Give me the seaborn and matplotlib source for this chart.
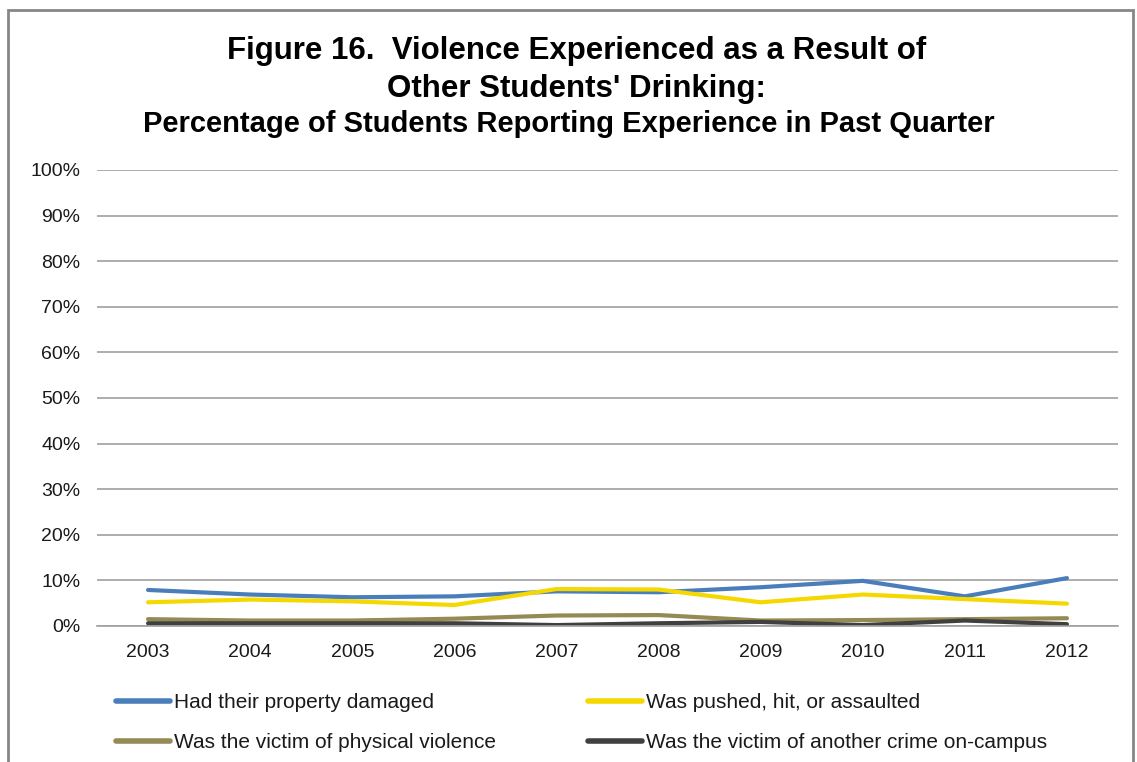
import matplotlib
matplotlib.use("Agg")
import matplotlib.pyplot as plt
import seaborn as sns
import pandas as pd
from matplotlib.patches import Rectangle
from matplotlib.ticker import FuncFormatter
from matplotlib.lines import Line2D

years = ["2003", "2004", "2005", "2006", "2007", "2008", "2009", "2010", "2011", "2012"]
series_names = [
    "Had their property damaged",
    "Was pushed, hit, or assaulted",
    "Was the victim of physical violence",
    "Was the victim of another crime on-campus",
]
property_damaged = [7.9, 6.9, 6.3, 6.5, 7.6, 7.4, 8.5, 9.9, 6.5, 10.5]
pushed_hit = [5.2, 5.8, 5.4, 4.6, 8.1, 8.0, 5.2, 6.9, 5.9, 4.9]
physical_violence = [1.5, 1.2, 1.2, 1.6, 2.3, 2.4, 1.2, 1.3, 1.5, 1.7]
other_crime = [0.6, 0.6, 0.6, 0.6, 0.2, 0.6, 0.9, 0.2, 1.2, 0.4]
colors = ["#4A7EBB", "#F5D800", "#948A54", "#404040"]

rows = []
for name, vals in zip(series_names, [property_damaged, pushed_hit, physical_violence, other_crime]):
    for y, v in zip(years, vals):
        rows.append({"Year": y, "Value": v, "Series": name})
df = pd.DataFrame(rows)

sns.set_style("white")
plt.rcParams["font.family"] = ["Liberation Sans", "DejaVu Sans"]

fig = plt.figure(figsize=(11.37, 7.62), dpi=100)
ax = fig.add_axes([97 / 1137, 1 - 626 / 762, (1118 - 97) / 1137, (626 - 170) / 762])

sns.lineplot(data=df, x="Year", y="Value", hue="Series", hue_order=series_names,
             palette=colors, linewidth=3.0, ax=ax, legend=False, sort=False)

ax.set_xlim(-0.5, len(years) - 0.5)
ax.set_ylim(0, 100)
ax.set_yticks(range(0, 101, 10))
ax.yaxis.set_major_formatter(FuncFormatter(lambda v, p: f"{int(v)}%"))
ax.grid(axis="y", color="#A0A0A0", linewidth=1.2)
ax.set_axisbelow(True)
for s in ["top", "right", "left"]:
    ax.spines[s].set_visible(False)
ax.spines["bottom"].set_color("#A0A0A0")
ax.spines["bottom"].set_linewidth(1.2)
ax.tick_params(axis="both", length=0, labelsize=14, colors="#1A1A1A")
ax.tick_params(axis="y", pad=12)
ax.tick_params(axis="x", pad=13)
ax.set_xlabel("")
ax.set_ylabel("")

# Title
fig.text(0.507, 1 - 51 / 762, "Figure 16.  Violence Experienced as a Result of",
         ha="center", va="center", fontsize=22.5, fontweight="bold", color="black")
fig.text(0.507, 1 - 89 / 762, "Other Students' Drinking:",
         ha="center", va="center", fontsize=22.5, fontweight="bold", color="black")
fig.text(0.5, 1 - 124 / 762, "Percentage of Students Reporting Experience in Past Quarter",
         ha="center", va="center", fontsize=21, fontweight="bold", color="black")

# Legend
handles = [Line2D([0], [0], color=c, linewidth=4) for c in colors]
order = [0, 2, 1, 3]
leg = fig.legend([handles[i] for i in order], [series_names[i] for i in order],
                 ncol=2, loc="upper left", bbox_to_anchor=(116 / 1137, 1 - 693 / 762),
                 frameon=False, fontsize=15, handlelength=2.6, handletextpad=0.2,
                 columnspacing=4.4, labelspacing=1.02, borderaxespad=0, borderpad=0)
for t in leg.get_texts():
    t.set_color("#1A1A1A")

# Chart frame
fig.patches.append(Rectangle((8 / 1137, -0.01), (1133 - 8) / 1137, 1 - 10 / 762 + 0.01,
                             transform=fig.transFigure, fill=False,
                             edgecolor="#868686", linewidth=2))

fig.savefig("out.png", dpi=100)
